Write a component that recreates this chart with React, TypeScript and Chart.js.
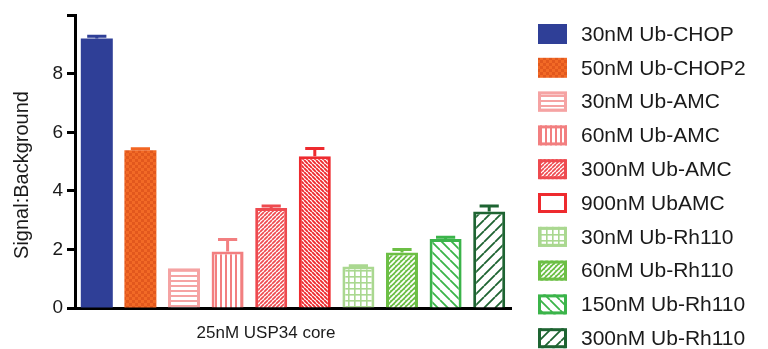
import React, { useEffect, useRef } from 'react';
import { Chart, registerables } from 'chart.js';

Chart.register(...registerables);

// ---------- data ----------
const categories = ['25nM USP34 core'];
const seriesLabels = [
  '30nM Ub-CHOP',
  '50nM Ub-CHOP2',
  '30nM Ub-AMC',
  '60nM Ub-AMC',
  '300nM Ub-AMC',
  '900nM UbAMC',
  '30nM Ub-Rh110',
  '60nM Ub-Rh110',
  '150nM Ub-Rh110',
  '300nM Ub-Rh110',
];
const seriesValues = [9.21, 5.39, 1.36, 1.93, 3.42, 5.19, 1.42, 1.9, 2.36, 3.3];
const seriesErrors = [0.08, 0.05, 0, 0.41, 0.07, 0.26, 0.02, 0.1, 0.06, 0.19];
const yTickLabels = [0, 2, 4, 6, 8];
const yMin = 0;
const yMax = 10;
const yStep = 2;
const yAxisTitle = 'Signal:Background';

// ---------- styles ----------
const FONT = '"Liberation Sans", Arial, sans-serif';
const colors = [
  '#2f3f97',
  '#f26522',
  '#f5a3a3',
  '#f27f80',
  '#ee4a4f',
  '#ee2a2e',
  '#aad890',
  '#6cbf45',
  '#3bb44a',
  '#1e6432',
];

function tile(w: number, h: number, draw: (c: CanvasRenderingContext2D) => void) {
  const cv = document.createElement('canvas');
  cv.width = w;
  cv.height = h;
  const c = cv.getContext('2d')!;
  draw(c);
  return c.createPattern(cv, 'repeat')!;
}

function diag(s: number, lw: number, fg: string, bg: string, dir: '/' | '\\') {
  return tile(s, s, (c) => {
    c.fillStyle = bg;
    c.fillRect(0, 0, s, s);
    c.strokeStyle = fg;
    c.lineWidth = lw;
    c.beginPath();
    for (let k = -1; k <= 1; k++) {
      if (dir === '/') {
        c.moveTo(k * s, s);
        c.lineTo(k * s + s, 0);
      } else {
        c.moveTo(k * s, 0);
        c.lineTo(k * s + s, s);
      }
    }
    c.stroke();
  });
}

function makeFills() {
  const w = '#ffffff';
  return [
    colors[0],
    tile(6, 6, (c) => {
      c.fillStyle = '#f26a26';
      c.fillRect(0, 0, 6, 6);
      c.fillStyle = '#e2581d';
      c.fillRect(0, 0, 3, 3);
      c.fillRect(3, 3, 3, 3);
    }),
    tile(5, 5, (c) => {
      c.fillStyle = w;
      c.fillRect(0, 0, 5, 5);
      c.fillStyle = colors[2];
      c.fillRect(0, 0, 5, 2);
    }),
    tile(5, 5, (c) => {
      c.fillStyle = w;
      c.fillRect(0, 0, 5, 5);
      c.fillStyle = colors[3];
      c.fillRect(0, 0, 2, 5);
    }),
    diag(4, 1.7, colors[4], w, '/'),
    diag(4, 1.9, colors[5], w, '\\'),
    tile(6, 6, (c) => {
      c.fillStyle = w;
      c.fillRect(0, 0, 6, 6);
      c.fillStyle = colors[6];
      c.fillRect(0, 0, 6, 1.6);
      c.fillRect(0, 0, 1.6, 6);
    }),
    diag(5, 1.8, w, colors[7], '/'),
    diag(10, 1.8, colors[8], w, '\\'),
    diag(11, 1.8, colors[9], w, '/'),
  ];
}

const legendOverride: Record<number, string> = { 5: '#ffffff' };

// ---------- plugins ----------
const errorBarPlugin = {
  id: 'errorBars',
  afterDatasetsDraw(chart: any) {
    const ctx = chart.ctx as CanvasRenderingContext2D;
    const y = chart.scales.y;
    chart.data.datasets.forEach((ds: any, i: number) => {
      const err = ds.errors?.[0];
      if (!err) return;
      const el = chart.getDatasetMeta(i).data[0];
      const v = ds.data[0];
      const top = y.getPixelForValue(v + err);
      const half = el.width * 0.3;
      ctx.save();
      ctx.strokeStyle = ds.errorColor;
      ctx.lineWidth = 3;
      ctx.beginPath();
      ctx.moveTo(el.x, el.y);
      ctx.lineTo(el.x, top);
      ctx.moveTo(el.x - half, top);
      ctx.lineTo(el.x + half, top);
      ctx.stroke();
      ctx.restore();
    });
  },
};

const legendPlugin = {
  id: 'sideLegend',
  afterDraw(chart: any) {
    const ctx = chart.ctx as CanvasRenderingContext2D;
    const x0 = 538;
    const y0 = 24;
    const gap = 33.8;
    const bw = 29;
    const bh = 20;
    chart.data.datasets.forEach((ds: any, i: number) => {
      const by = y0 + i * gap;
      ctx.save();
      ctx.fillStyle = legendOverride[i] ?? ds.backgroundColor;
      ctx.fillRect(x0, by, bw, bh);
      if (ds.borderWidth > 0) {
        ctx.strokeStyle = ds.borderColor;
        ctx.lineWidth = 3;
        ctx.strokeRect(x0 + 1.5, by + 1.5, bw - 3, bh - 3);
      }
      ctx.fillStyle = '#1a1a1a';
      ctx.font = `21px ${FONT}`;
      ctx.textBaseline = 'middle';
      ctx.textAlign = 'left';
      ctx.fillText(ds.label, 581, by + bh / 2 + 1);
      ctx.restore();
    });
  },
};

const yTitlePlugin = {
  id: 'yTitle',
  afterDraw(chart: any) {
    const ctx = chart.ctx as CanvasRenderingContext2D;
    ctx.save();
    ctx.translate(22, 175);
    ctx.rotate(-Math.PI / 2);
    ctx.font = `20px ${FONT}`;
    ctx.fillStyle = '#1a1a1a';
    ctx.textAlign = 'center';
    ctx.textBaseline = 'middle';
    ctx.fillText(yAxisTitle, 0, 0);
    ctx.restore();
  },
};

export default function App() {
  const ref = useRef<HTMLCanvasElement>(null);

  useEffect(() => {
    if (!ref.current) return;
    const fills = makeFills();
    const datasets = seriesLabels.map((label, i) => ({
      label,
      data: [seriesValues[i]],
      errors: [seriesErrors[i]],
      backgroundColor: fills[i],
      borderColor: colors[i],
      errorColor: colors[i],
      borderWidth: i < 2 ? 0 : 3,
      borderSkipped: 'start',
      categoryPercentage: 1,
      barPercentage: 0.734,
    }));
    const chart = new Chart(ref.current, {
      type: 'bar',
      data: { labels: categories, datasets: datasets as any },
      options: {
        responsive: false,
        animation: false,
        layout: { padding: { top: 15, right: 257, bottom: 0, left: 0 } },
        plugins: {
          legend: { display: false },
          tooltip: { enabled: false },
        },
        scales: {
          x: {
            type: 'category',
            offset: true,
            grid: { display: false },
            border: { display: true, color: '#000', width: 3 },
            ticks: {
              font: { family: FONT, size: 17 },
              color: '#1a1a1a',
              padding: 7,
              labelOffset: -27,
            },
            afterFit: (s: any) => {
              s.height = 41;
            },
          },
          y: {
            min: yMin,
            max: yMax,
            ticks: {
              stepSize: yStep,
              font: { family: FONT, size: 19 },
              color: '#1a1a1a',
              padding: 4,
              callback: (v: any) => (yTickLabels.includes(Number(v)) ? String(v) : ''),
            },
            grid: {
              drawOnChartArea: false,
              drawTicks: true,
              tickLength: 8,
              tickWidth: 3,
              color: '#000',
            },
            border: { display: true, color: '#000', width: 3 },
            afterFit: (s: any) => {
              s.width = 75;
            },
          },
        },
      } as any,
      plugins: [errorBarPlugin, legendPlugin, yTitlePlugin],
    });
    return () => chart.destroy();
  }, []);

  return (
    <div style={{ position: 'absolute', left: 0, top: 0, width: 768, height: 349, background: '#fff' }}>
      <canvas ref={ref} width={768} height={349} style={{ display: 'block' }} />
    </div>
  );
}
